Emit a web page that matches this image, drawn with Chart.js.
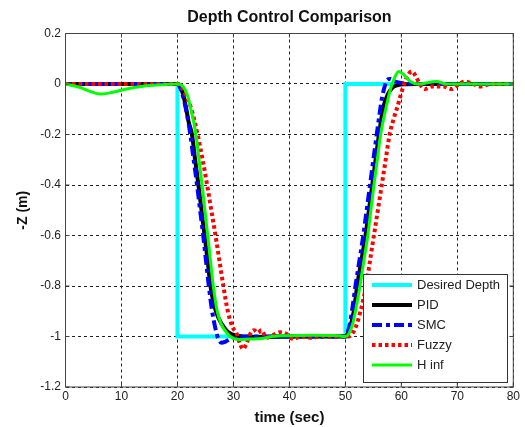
<!DOCTYPE html>
<html>
<head>
<meta charset="utf-8">
<script src="https://cdn.jsdelivr.net/npm/chart.js@4.4.1/dist/chart.umd.min.js"></script>
<style>
  body { margin: 0; background: #fff; }
  #chart { display: block; }
</style>
</head>
<body>
<canvas id="chart" width="525" height="427"></canvas>
<script>
// Sprungantworten, Zeit in s und Tiefe -Z in m
var desT = [0, 20, 20, 50, 50, 80];
var desZ = [0, 0, -1, -1, 0, 0];

var pidT = [0, 20, 20.5, 21, 21.5, 22, 22.6, 23.15, 23.75, 24.3, 24.85, 25.4, 25.9, 26.5, 27.2, 27.9, 28.7, 29.6, 31, 35, 40, 45, 50, 50.4, 50.9, 51.5, 52.1, 52.85, 53.6, 54.2, 54.8, 55.4, 56, 56.8, 57.6, 58.4, 59.3, 60.5, 63, 70, 80];
var pidZ = [0, 0, -0.01, -0.04, -0.09, -0.15, -0.2, -0.3, -0.4, -0.5, -0.6, -0.7, -0.8, -0.87, -0.92, -0.95, -0.975, -0.99, -0.998, -1.002, -1.0, -1.0, -1.0, -0.99, -0.96, -0.9, -0.8, -0.7, -0.6, -0.5, -0.4, -0.3, -0.2, -0.09, -0.04, -0.015, -0.005, -0.001, 0, 0, 0];

var smcT = [0, 20, 20.4, 21, 21.7, 22.3, 22.9, 23.5, 24.05, 24.6, 25.1, 25.6, 26.2, 26.8, 27.3, 27.9, 28.6, 29.5, 31, 35, 40, 45, 50, 50.3, 50.8, 51.3, 51.8, 52.5, 53.2, 53.8, 54.4, 55, 55.6, 56.1, 56.5, 56.9, 57.4, 58, 58.8, 60, 62, 70, 80];
var smcZ = [0, 0, -0.01, -0.05, -0.12, -0.2, -0.3, -0.4, -0.5, -0.6, -0.7, -0.8, -0.9, -0.97, -1.01, -1.025, -1.02, -1.01, -1.003, -1.0, -1.0, -1.0, -1.0, -0.99, -0.95, -0.88, -0.8, -0.7, -0.6, -0.5, -0.4, -0.3, -0.2, -0.12, -0.06, -0.02, 0.015, 0.02, 0.01, 0.004, 0, 0, 0];

var fuzT = [0, 20, 20.7, 21.4, 22.5, 23.6, 24.5, 25.3, 26.05, 26.8, 27.5, 28.2, 29.0, 29.8, 30.6, 31.2, 31.7, 32.3, 33, 33.7, 34.4, 35, 35.9, 37, 38.3, 39.5, 40.7, 42, 44, 46, 48, 50.5, 51.2, 51.9, 52.7, 53.7, 54.4, 55.1, 55.8, 56.5, 57.2, 57.9, 58.6, 59.3, 59.8, 60.5, 61.3, 61.9, 62.6, 63.3, 64.2, 65.5, 67.5, 69, 70.3, 71.4, 72.8, 74.1, 76, 80];
var fuzZ = [0, 0, -0.01, -0.04, -0.1, -0.2, -0.3, -0.4, -0.5, -0.6, -0.7, -0.8, -0.9, -0.96, -0.99, -1.03, -1.05, -1.03, -0.99, -0.975, -0.985, -0.975, -1.005, -0.995, -0.983, -0.99, -1.01, -1.0, -1.005, -0.998, -1.0, -1.0, -0.99, -0.96, -0.9, -0.8, -0.7, -0.6, -0.5, -0.4, -0.3, -0.2, -0.14, -0.09, -0.05, 0, 0.04, 0.05, 0.03, 0, -0.02, -0.01, -0.01, -0.02, 0, 0.01, 0, -0.01, 0, 0];

var hinfT = [0, 2.5, 4.5, 6.1, 8, 10.9, 13.5, 15.6, 18, 20, 21, 21.7, 22.4, 23.3, 23.85, 24.4, 24.9, 25.4, 25.9, 26.4, 27.1, 27.8, 28.8, 29.8, 31, 33, 35, 37, 40, 44, 48, 50, 50.6, 51.3, 51.8, 52.6, 53.3, 54, 54.55, 55.1, 55.7, 56.3, 57.2, 58, 58.7, 59.5, 60.3, 61.6, 63, 66.3, 68, 80];
var hinfZ = [0, -0.013, -0.03, -0.04, -0.035, -0.02, -0.01, -0.005, -0.002, 0, -0.01, -0.04, -0.1, -0.2, -0.3, -0.4, -0.5, -0.6, -0.7, -0.8, -0.9, -0.95, -0.985, -1.005, -1.012, -1.01, -1.008, -1.0, -0.997, -0.995, -0.996, -1.0, -0.99, -0.95, -0.9, -0.8, -0.7, -0.6, -0.5, -0.4, -0.3, -0.2, -0.1, -0.025, 0.02, 0.05, 0.04, 0.01, 0, 0.01, 0, 0];

var xTicks = [0, 10, 20, 30, 40, 50, 60, 70, 80];
var yTicks = [0.2, 0, -0.2, -0.4, -0.6, -0.8, -1, -1.2];

function pts(t, z) {
    return t.map(function(v, i) {
        return { x: v, y: z[i] };
    });
}

Chart.defaults.font.family = '"Liberation Sans", Arial, sans-serif';
Chart.defaults.color = '#222';

// Rahmen mit Ticks nach innen (wie in Matlab)
var axesBox = {
    id: 'axesBox',
    afterDatasetsDraw: function(chart) {
        var ctx = chart.ctx, a = chart.chartArea;
        var xs = chart.scales.x, ys = chart.scales.y;
        ctx.save();
        ctx.strokeStyle = '#444';
        ctx.lineWidth = 1;
        ctx.setLineDash([]);
        ctx.strokeRect(a.left, a.top, a.right - a.left, a.bottom - a.top);
        ctx.beginPath();
        xTicks.forEach(function(v) {
            var px = xs.getPixelForValue(v);
            ctx.moveTo(px, a.bottom); ctx.lineTo(px, a.bottom - 4);
            ctx.moveTo(px, a.top); ctx.lineTo(px, a.top + 4);
        });
        yTicks.forEach(function(v) {
            var py = ys.getPixelForValue(v);
            ctx.moveTo(a.left, py); ctx.lineTo(a.left + 4, py);
            ctx.moveTo(a.right, py); ctx.lineTo(a.right - 4, py);
        });
        ctx.stroke();
        ctx.restore();
    },
    // Legende unten rechts im Plot
    afterDraw: function(chart) {
        var ctx = chart.ctx, a = chart.chartArea;
        var w = 144, h = 108;
        var x0 = Math.round(a.right - 6 - w), y0 = Math.round(a.bottom - 5 - h);
        ctx.save();
        ctx.fillStyle = '#fff';
        ctx.fillRect(x0, y0, w, h);
        ctx.strokeStyle = '#333';
        ctx.lineWidth = 1;
        ctx.strokeRect(x0 + 0.5, y0 + 0.5, w, h);
        ctx.font = '13px "Liberation Sans", Arial, sans-serif';
        ctx.textBaseline = 'middle';
        chart.data.datasets.forEach(function(ds, i) {
            var y = y0 + 11 + i * 20;
            ctx.beginPath();
            ctx.setLineDash(ds.borderDash || []);
            ctx.strokeStyle = ds.borderColor;
            ctx.lineWidth = ds.borderWidth;
            ctx.moveTo(x0 + 9, y);
            ctx.lineTo(x0 + 49, y);
            ctx.stroke();
            ctx.fillStyle = '#222';
            ctx.fillText(ds.label, x0 + 54, y);
        });
        ctx.restore();
    }
};

var ctx = document.getElementById('chart').getContext('2d');
new Chart(ctx, {
    type: 'line',
    data: {
        datasets: [{
            label: 'Desired Depth',
            data: pts(desT, desZ),
            borderColor: '#00ffff',
            borderWidth: 4,
            tension: 0,
            order: 5
        }, {
            label: 'PID',
            data: pts(pidT, pidZ),
            borderColor: '#000000',
            borderWidth: 4,
            cubicInterpolationMode: 'monotone',
            order: 4
        }, {
            label: 'SMC',
            data: pts(smcT, smcZ),
            borderColor: '#0000ff',
            borderWidth: 4,
            borderDash: [10, 4, 4, 4],
            cubicInterpolationMode: 'monotone',
            order: 3
        }, {
            label: 'Fuzzy',
            data: pts(fuzT, fuzZ),
            borderColor: '#ff0000',
            borderWidth: 4,
            borderDash: [3.5, 3],
            cubicInterpolationMode: 'monotone',
            order: 2
        }, {
            label: 'H inf',
            data: pts(hinfT, hinfZ),
            borderColor: '#00ff00',
            borderWidth: 3,
            cubicInterpolationMode: 'monotone',
            order: 1
        }]
    },
    options: {
        responsive: false,
        animation: false,
        devicePixelRatio: 1,
        elements: { point: { radius: 0 } },
        layout: { padding: { left: 0, right: 11.7, top: 0, bottom: 0 } },
        plugins: {
            legend: { display: false },
            tooltip: { enabled: false },
            title: {
                display: true,
                fullSize: false,
                text: 'Depth Control Comparison',
                color: '#111',
                font: { size: 16, weight: 'bold' },
                padding: { top: 7.5, bottom: 6.8 }
            }
        },
        scales: {
            x: {
                type: 'linear',
                min: 0,
                max: 80,
                afterBuildTicks: function(axis) {
                    axis.ticks = xTicks.map(function(v) { return { value: v }; });
                },
                afterFit: function(axis) { axis.height = 40; },
                ticks: { font: { size: 12 }, padding: 2, maxRotation: 0 },
                grid: { color: '#222', lineWidth: 1, drawTicks: false },
                border: { display: false, dash: [3, 3] },
                title: {
                    display: true,
                    text: 'time (sec)',
                    color: '#111',
                    font: { size: 15, weight: 'bold' },
                    padding: { top: 0, bottom: 0 }
                }
            },
            y: {
                min: -1.2,
                max: 0.2,
                afterBuildTicks: function(axis) {
                    axis.ticks = yTicks.map(function(v) { return { value: v }; });
                },
                afterFit: function(axis) { axis.width = 65.5; },
                ticks: {
                    font: { size: 12 },
                    padding: 4.5,
                    callback: function(v) { return String(Math.round(v * 10) / 10); }
                },
                grid: { color: '#222', lineWidth: 1, drawTicks: false },
                border: { display: false, dash: [3, 3] },
                title: {
                    display: true,
                    text: '-Z (m)',
                    color: '#111',
                    font: { size: 14, weight: 'bold' },
                    padding: { top: 14.6, bottom: 0 }
                }
            }
        }
    },
    plugins: [axesBox]
});
</script>
</body>
</html>
